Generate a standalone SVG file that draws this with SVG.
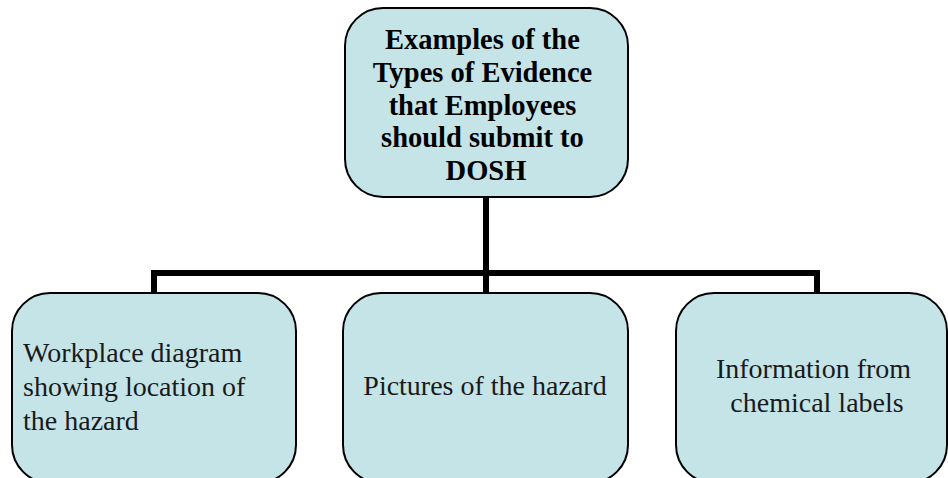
<svg xmlns="http://www.w3.org/2000/svg" width="948" height="478" viewBox="0 0 948 478">
<style>
.box{fill:#C5E4E8;stroke:#000;stroke-width:2}
.conn{fill:none;stroke:#000;stroke-width:6;stroke-linejoin:miter}
.t{font-family:'Liberation Serif','Times New Roman','DejaVu Serif',serif;font-size:28px;fill:#1a1a1a}
.b{font-weight:bold;font-size:28.5px;fill:#000}
</style>
<rect width="948" height="478" fill="#fff"/>
<g id="connectors">
<path class="conn" d="M486 197V273"/>
<path class="conn" d="M154 293V273H817V293"/>
<path class="conn" d="M486 273V293"/>
</g>
<g id="root">
<rect class="box" x="345" y="8" width="283" height="189" rx="38" ry="38"/>
<text class="t b" text-anchor="middle" x="486">
<tspan x="486" y="49">Examples of the</tspan>
<tspan x="486" y="82">Types of Evidence</tspan>
<tspan x="486" y="115">that Employees</tspan>
<tspan x="486" y="147">should submit to</tspan>
<tspan x="486" y="180">DOSH</tspan>
</text>
</g>
<g id="child1">
<rect class="box" x="12" y="293" width="284" height="190" rx="38" ry="38"/>
<text class="t">
<tspan x="23" y="362">Workplace diagram</tspan>
<tspan x="23" y="396">showing location of</tspan>
<tspan x="23" y="430">the hazard</tspan>
</text>
</g>
<g id="child2">
<rect class="box" x="343" y="293" width="285" height="190" rx="38" ry="38"/>
<text class="t" text-anchor="middle" x="485" y="395">Pictures of the hazard</text>
</g>
<g id="child3">
<rect class="box" x="676" y="293" width="271" height="190" rx="38" ry="38"/>
<text class="t" text-anchor="middle">
<tspan x="817" y="378">Information from</tspan>
<tspan x="817" y="412">chemical labels</tspan>
</text>
</g>
</svg>
